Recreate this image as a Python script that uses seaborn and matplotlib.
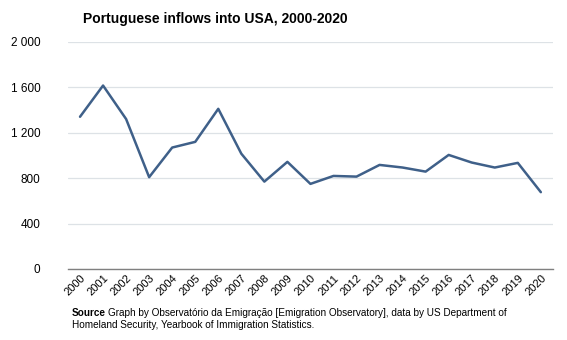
import matplotlib
matplotlib.use("Agg")
import matplotlib.pyplot as plt
import seaborn as sns
import pandas as pd
from matplotlib.ticker import FuncFormatter

years = list(range(2000, 2021))
inflows = [1340, 1615, 1320, 808, 1069, 1119, 1410, 1015, 769, 943,
           749, 819, 813, 916, 893, 857, 1004, 937, 893, 934, 676]
y_ticks = [0, 400, 800, 1200, 1600, 2000]

df = pd.DataFrame({"year": years, "inflows": inflows})

sns.set_theme(style="white", rc={"text.color": "black", "xtick.color": "black",
                                 "ytick.color": "black"})
plt.rcParams["font.family"] = ["Liberation Sans", "DejaVu Sans"]

fig = plt.figure(figsize=(5.67, 3.4), dpi=100)
ax = fig.add_axes([0.12, 0.209, 0.855, 0.668])

sns.lineplot(data=df, x="year", y="inflows", ax=ax, color="#3f6089", linewidth=1.8)

ax.set_xlim(1999.48, 2020.52)
ax.set_ylim(0, 2000)
ax.set_yticks(y_ticks)
ax.yaxis.set_major_formatter(FuncFormatter(lambda v, p: f"{int(v):,}".replace(",", " ")))
ax.set_xticks(years)
ax.set_xticklabels([str(y) for y in years], rotation=45, ha="right",
                   rotation_mode="anchor", fontsize=8)
ax.tick_params(axis="y", labelsize=8.5, length=0, pad=20)
ax.tick_params(axis="x", length=0, pad=3)
ax.grid(axis="y", color="#dde2e6", linewidth=0.9)
ax.set_axisbelow(True)
for s in ["top", "right", "left"]:
    ax.spines[s].set_visible(False)
ax.spines["bottom"].set_color("#808080")
ax.spines["bottom"].set_linewidth(1.0)
ax.set_xlabel("")
ax.set_ylabel("")

fig.text(0.146, 0.945, "Portuguese inflows into USA, 2000-2020", fontsize=10,
         fontweight="bold", ha="left", va="center")

fig.text(0.127, 0.079, "Source", fontsize=7.2, fontweight="bold", ha="left", va="center")
fig.text(0.191, 0.079, "Graph by Observatório da Emigração [Emigration Observatory], data by US Department of",
         fontsize=7.2, ha="left", va="center")
fig.text(0.127, 0.044, "Homeland Security, Yearbook of Immigration Statistics.",
         fontsize=7.2, ha="left", va="center")

fig.savefig("out.png", dpi=100, facecolor="white")
